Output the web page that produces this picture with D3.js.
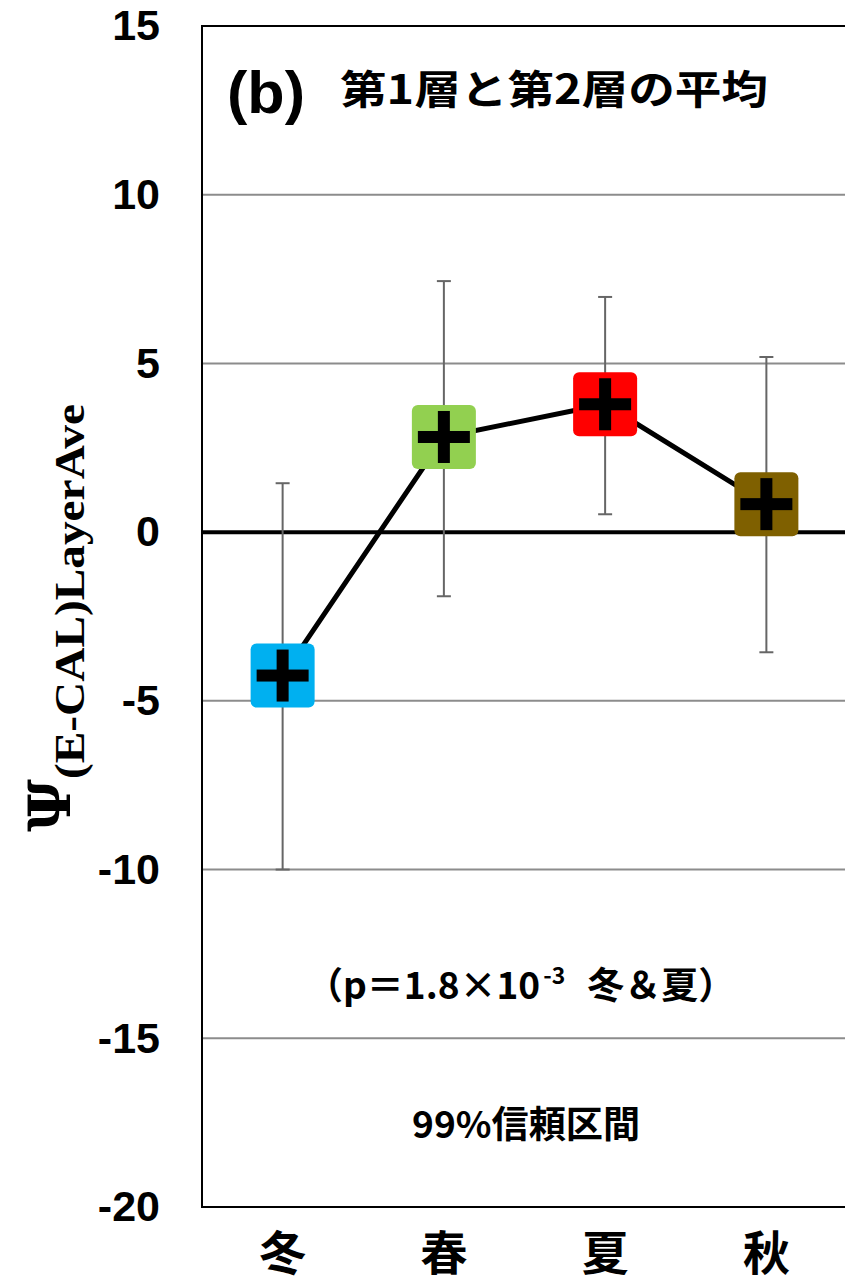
<!DOCTYPE html>
<html>
<head>
<meta charset="utf-8">
<script src="https://cdn.jsdelivr.net/npm/d3@7"></script>
<style>
  body { margin: 0; background: #fff; }
  svg { display: block; }
</style>
</head>
<body>
<svg width="845" height="1284"></svg>
<script>
var svg = d3.select('svg');

// data
const seasons = ["冬", "春", "夏", "秋"];
const means = [-4.25, 2.82, 3.79, 0.83];
const upper = [1.45, 7.44, 6.97, 5.19];
const lower = [-10.0, -1.9, 0.53, -3.56];
const colors = ["#00B0F0", "#92D050", "#FF0000", "#7F6000"];
const yTicks = [15, 10, 5, 0, -5, -10, -15, -20];

var plotLeft = 202, plotRight = 847, plotTop = 26, plotBottom = 1207;

var xScale = d3.scaleBand()
    .domain(seasons)
    .range([plotLeft, plotRight]);

var yScale = d3.scaleLinear()
    .domain([-20, 15])
    .range([plotBottom, plotTop]);

var cx = d => xScale(d) + xScale.bandwidth() / 2;

// gridlines
svg.append("g")
    .selectAll("line")
    .data(yTicks.filter(t => t !== 0 && t !== 15 && t !== -20))
    .enter()
    .append("line")
    .attr("x1", plotLeft)
    .attr("x2", plotRight)
    .attr("y1", d => yScale(d))
    .attr("y2", d => yScale(d))
    .style("stroke", "#8c8c8c")
    .style("stroke-width", 2);

// frame
svg.append("rect")
    .attr("x", plotLeft)
    .attr("y", plotTop)
    .attr("width", plotRight - plotLeft)
    .attr("height", plotBottom - plotTop)
    .style("fill", "none")
    .style("stroke", "#000")
    .style("stroke-width", 2);

// zero line
svg.append("line")
    .attr("x1", plotLeft)
    .attr("x2", plotRight)
    .attr("y1", yScale(0))
    .attr("y2", yScale(0))
    .style("stroke", "#000")
    .style("stroke-width", 4);

// y axis labels (plain hyphen like the original)
var yAxis = d3.axisLeft(yScale)
    .tickValues(yTicks)
    .tickFormat(d => String(d))
    .tickSize(0)
    .tickPadding(42);

var yg = svg.append("g")
    .attr("transform", `translate(${plotLeft}, 0)`)
    .call(yAxis);
yg.select(".domain").remove();
yg.selectAll("text")
    .style("font-family", "'Liberation Sans', Arial, sans-serif")
    .style("font-weight", "bold")
    .style("font-size", "43px")
    .style("fill", "#000");

// x axis labels
var xAxis = d3.axisBottom(xScale).tickSize(0).tickPadding(22);
var xg = svg.append("g")
    .attr("transform", `translate(0, ${plotBottom})`)
    .call(xAxis);
xg.select(".domain").remove();
xg.selectAll("text")
    .attr("dy", "0.88em")
    .style("font-family", "'Noto Sans CJK JP', sans-serif")
    .style("font-weight", "bold")
    .style("font-size", "47px")
    .style("fill", "#000");

// error bars
var eb = svg.append("g")
    .selectAll("g")
    .data(seasons)
    .enter()
    .append("g")
    .style("stroke", "#666")
    .style("stroke-width", 2);

eb.append("line")
    .attr("x1", d => cx(d))
    .attr("x2", d => cx(d))
    .attr("y1", (d, i) => yScale(upper[i]))
    .attr("y2", (d, i) => yScale(lower[i]));
eb.append("line")
    .attr("x1", d => cx(d) - 7)
    .attr("x2", d => cx(d) + 7)
    .attr("y1", (d, i) => yScale(upper[i]))
    .attr("y2", (d, i) => yScale(upper[i]));
eb.append("line")
    .attr("x1", d => cx(d) - 7)
    .attr("x2", d => cx(d) + 7)
    .attr("y1", (d, i) => yScale(lower[i]))
    .attr("y2", (d, i) => yScale(lower[i]));

// series line
var line = d3.line()
    .x((d, i) => cx(seasons[i]))
    .y(d => yScale(d));

svg.append("path")
    .datum(means)
    .attr("d", line)
    .style("fill", "none")
    .style("stroke", "#000")
    .style("stroke-width", 5);

// markers
var mk = svg.append("g")
    .selectAll("g")
    .data(seasons)
    .enter()
    .append("g")
    .attr("transform", (d, i) => `translate(${cx(d)}, ${yScale(means[i])})`);

mk.append("rect")
    .attr("x", -32)
    .attr("y", -32)
    .attr("width", 64)
    .attr("height", 64)
    .attr("rx", 6)
    .style("fill", (d, i) => colors[i]);

mk.append("rect")
    .attr("x", -26)
    .attr("y", -6)
    .attr("width", 52)
    .attr("height", 12)
    .style("fill", "#000");
mk.append("rect")
    .attr("x", -6)
    .attr("y", -26)
    .attr("width", 12)
    .attr("height", 52)
    .style("fill", "#000");

// title
svg.append("text")
    .attr("x", 227)
    .attr("y", 113)
    .attr("textLength", 78)
    .attr("lengthAdjust", "spacingAndGlyphs")
    .style("font-family", "'Liberation Sans', Arial, sans-serif")
    .style("font-weight", "bold")
    .style("font-size", "60px")
    .text("(b)");

svg.append("text")
    .attr("x", 340)
    .attr("y", 104)
    .attr("textLength", 428)
    .attr("lengthAdjust", "spacingAndGlyphs")
    .style("font-family", "'Noto Sans CJK JP', sans-serif")
    .style("font-weight", "bold")
    .style("font-size", "40px")
    .text("第1層と第2層の平均");

// annotation
var note = svg.append("text")
    .attr("x", 306)
    .attr("y", 999)
    .style("font-family", "'Noto Sans CJK JP', sans-serif")
    .style("font-weight", "bold")
    .style("font-size", "37px");
note.append("tspan").text("（p＝1.8×10");
note.append("tspan").attr("dx", 3).attr("dy", -15).style("font-size", "23px").text("-3");
note.append("tspan").attr("dx", 22).attr("dy", 15).text("冬＆夏）");

svg.append("text")
    .attr("x", 526)
    .attr("y", 1138)
    .attr("text-anchor", "middle")
    .attr("textLength", 228)
    .attr("lengthAdjust", "spacingAndGlyphs")
    .style("font-family", "'Noto Sans CJK JP', sans-serif")
    .style("font-weight", "bold")
    .style("font-size", "37px")
    .text("99%信頼区間");

// y axis title
var yt = svg.append("text")
    .attr("transform", "translate(70, 832) rotate(-90)")
    .style("font-family", "'DejaVu Serif', 'Liberation Serif', serif")
    .style("font-weight", "bold");
yt.append("tspan").style("font-size", "58px").text("Ψ");
yt.append("tspan")
    .attr("dy", 14)
    .attr("textLength", 375)
    .attr("lengthAdjust", "spacingAndGlyphs")
    .style("font-family", "'Liberation Serif', serif")
    .style("font-size", "42px")
    .text("(E-CAL)LayerAve");
</script>
</body>
</html>
